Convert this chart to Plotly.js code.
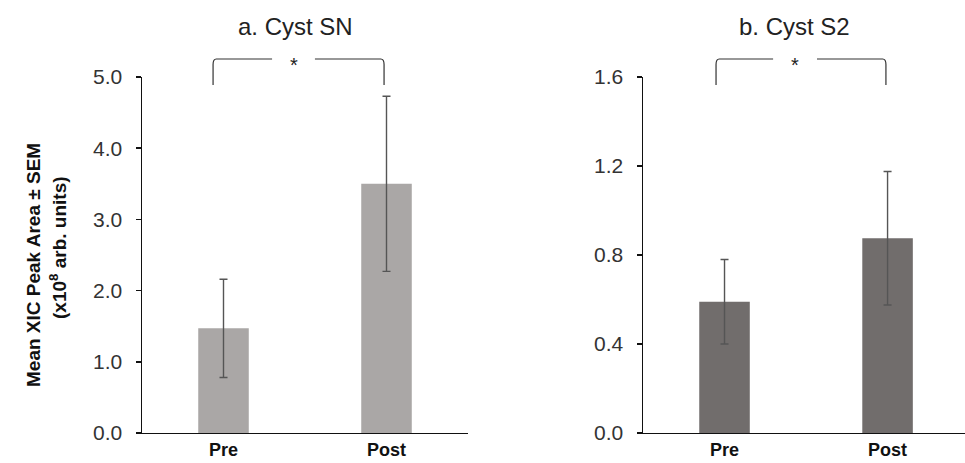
<!DOCTYPE html>
<html>
<head>
<meta charset="utf-8">
<script src="https://cdn.plot.ly/plotly-3.0.1.min.js"></script>
<style>html,body{margin:0;padding:0;background:#fff;}#chart{width:965px;height:463px;}</style>
</head>
<body>
<div id="chart"></div>
<script>
const categories = ["Pre", "Post"];
const snMeans = [1.47, 3.50];
const snSEM = [0.69, 1.23];
const s2Means = [0.59, 0.875];
const s2SEM = [0.19, 0.30];
const snTicks = [0, 1, 2, 3, 4, 5];
const snTickLabels = ["0.0", "1.0", "2.0", "3.0", "4.0", "5.0"];
const s2Ticks = [0, 0.4, 0.8, 1.2, 1.6];
const s2TickLabels = ["0.0", "0.4", "0.8", "1.2", "1.6"];
const panelTitles = ["a. Cyst SN", "b. Cyst S2"];
const yTitleLines = ["Mean XIC Peak Area ± SEM", "(x10<sup>8</sup> arb. units)"];

const F = "Arial, 'Liberation Sans', sans-serif";
const errStyle = {type: "data", visible: true, color: "#555555", thickness: 1.4, width: 4};

const traces = [
  {type: "bar", x: categories, y: snMeans, width: 0.31, marker: {color: "#aaa7a6"},
   error_y: Object.assign({array: snSEM}, errStyle), xaxis: "x", yaxis: "y", hoverinfo: "skip"},
  {type: "bar", x: categories, y: s2Means, width: 0.31, marker: {color: "#716d6c"},
   error_y: Object.assign({array: s2SEM}, errStyle), xaxis: "x2", yaxis: "y2", hoverinfo: "skip"}
];

function xAxis(domain, range) {
  return {domain: domain, range: range, type: "category", showline: true, linecolor: "#111", linewidth: 1.5,
    ticks: "", showgrid: false, zeroline: false, fixedrange: true, ticklabelstandoff: 0,
    tickfont: {family: F, size: 18, color: "#111", weight: "bold"}};
}
function yAxis(range, tv, tt, anchor) {
  return {domain: [0.0648, 0.8337], range: range, tickvals: tv, ticktext: tt, showline: true,
    linecolor: "#111", linewidth: 1.5, ticks: "outside", ticklen: 5, tickwidth: 1.5, tickcolor: "#111",
    showgrid: false, zeroline: false, anchor: anchor, ticklabelstandoff: 9,
    tickfont: {family: F, size: 21, color: "#333"}};
}

function bracket(xr, x0, x1, g0, g1) {
  const yt = 0.8726, yb = 0.8164, dx = 0.02, dy = 0.012;
  return {type: "path", xref: xr, yref: "paper",
    path: `M ${x0},${yb} L ${x0},${yt - dy} Q ${x0},${yt} ${x0 + dx},${yt} L ${g0},${yt} ` +
          `M ${g1},${yt} L ${x1 - dx},${yt} Q ${x1},${yt} ${x1},${yt - dy} L ${x1},${yb}`,
    line: {color: "#333", width: 1.2}};
}

function note(text, xpx, ypx, size, extra) {
  return Object.assign({text: text, xref: "paper", yref: "paper", x: xpx / 965, y: 1 - ypx / 463,
    xanchor: "center", yanchor: "middle", showarrow: false,
    font: {family: F, size: size, color: "#222"}}, extra || {});
}

const layout = {
  width: 965, height: 463, margin: {l: 0, r: 0, t: 0, b: 0},
  paper_bgcolor: "#fff", plot_bgcolor: "rgba(0,0,0,0)", showlegend: false,
  xaxis: xAxis([142 / 965, 468 / 965], [-0.5, 1.5]),
  yaxis: yAxis([0, 5], snTicks, snTickLabels, "x"),
  xaxis2: xAxis([643 / 965, 1], [-0.5, 1.475]),
  yaxis2: yAxis([0, 1.6], s2Ticks, s2TickLabels, "x2"),
  shapes: [
    bracket("x", -0.064, 0.985, 0.298, 0.561),
    bracket("x2", -0.052, 0.99, 0.298, 0.567)
  ],
  annotations: [
    note(panelTitles[0], 295, 26, 24),
    note(panelTitles[1], 794, 26, 24),
    note("*", 294, 65, 20),
    note("*", 795, 65, 20),
    note("<b>" + yTitleLines[0] + "</b>", 33, 265, 19, {textangle: -90, font: {family: F, size: 19, color: "#111"}}),
    note("<b>" + yTitleLines[1] + "</b>", 58, 248, 19, {textangle: -90, font: {family: F, size: 19, color: "#111"}})
  ]
};

Plotly.newPlot("chart", traces, layout, {displayModeBar: false, staticPlot: true});
</script>
</body>
</html>
